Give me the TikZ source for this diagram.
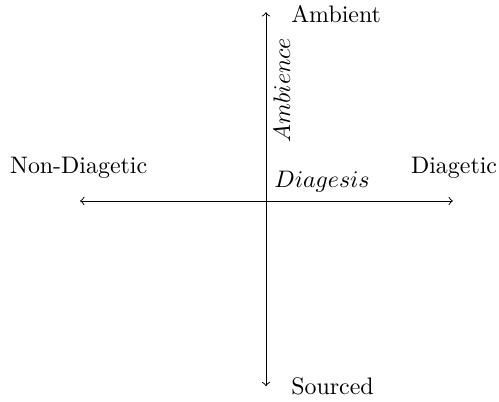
\documentclass[tikz,border=0pt]{standalone}
\begin{document}
\begin{tikzpicture}[x=1pt,y=1pt,
  axis/.style={->},
  lbl/.style={inner sep=0pt}]
\useasboundingbox (-111.3,-84.1) rectangle (97.5,84.1);
\coordinate (O) at (0,0);
\coordinate (T) at (0,79);
\coordinate (B) at (0,-77.5);
\coordinate (L) at (-77.8,0);
\coordinate (R) at (78.2,0);
\draw[axis] (O) -- (T);
\draw[axis] (O) -- (B);
\draw[axis] (O) -- (L);
\draw[axis] (O) -- (R);
\node[lbl,anchor=west] (amb) at (10.4,78) {Ambient};
\node[lbl,anchor=west] (src) at (10.4,-77.4) {Sourced};
\node[lbl] (nd) at (-78.4,13.8) {Non-Diagetic};
\node[lbl] (dg) at (78.7,13.8) {Diagetic};
\node[above right] (dgs) at (O) {$Diagesis$};
\node[lbl,rotate=90] (ambc) at (6.6,46.4) {$Ambience$};
\end{tikzpicture}
\end{document}
